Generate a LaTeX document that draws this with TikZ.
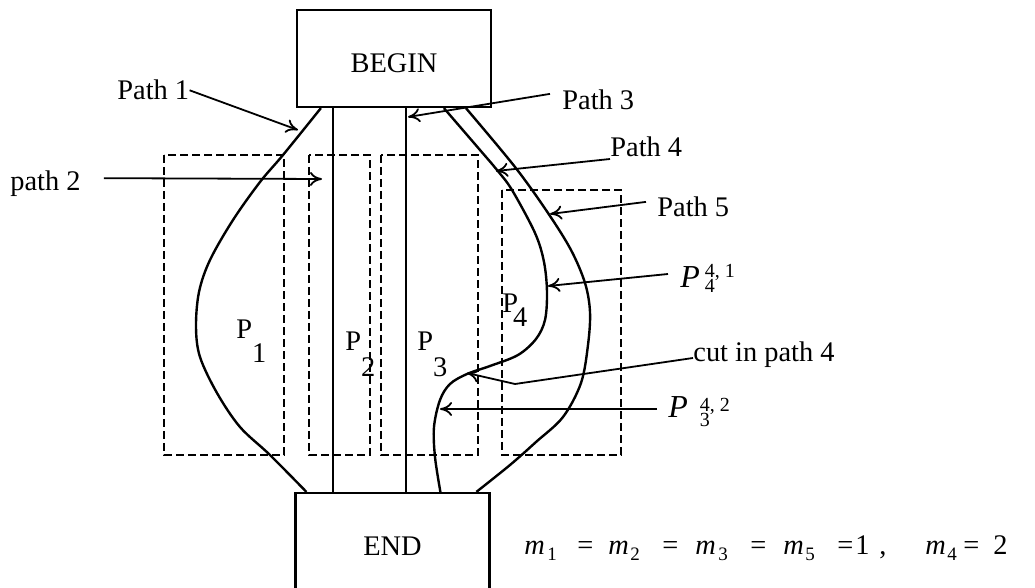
\documentclass[tikz,border=0pt]{standalone}
\usepackage{fontspec}
\setmainfont{Liberation Serif}
\usetikzlibrary{arrows.meta}
\newcommand\mysub[1]{\raisebox{-2.5pt}{\fontsize{9.5}{10}\selectfont #1}}
\newcommand\putat[2]{\rlap{\hspace{#1}#2}}
\begin{document}
\begin{tikzpicture}[x=0.5pt,y=-0.5pt,font=\fontsize{14.2}{16}\selectfont,
  box/.style={draw,line width=1.1pt,minimum width=97pt,minimum height=48.5pt,inner sep=0pt,text height=14.3pt,text depth=0pt},
  route/.style={line width=1.2pt,line join=round},
  dbox/.style={line width=1pt,dash pattern=on 4pt off 2pt},
  lab/.style={inner sep=0pt,anchor=base west},
  ptr/.style={line width=0.9pt,-{To[length=6pt,width=7pt]}}]
\useasboundingbox (0,0) rectangle (1035,588);
\clip (0,0) rectangle (1035,588);

% boxes
\node[box] (begin) at (394,58.5) {BEGIN};
\node[box] (end) at (392.5,541.5) {END};

% dashed partitions
\draw[dbox] (164,155) rectangle (284,455);
\draw[dbox] (309,155) rectangle (370,455);
\draw[dbox] (381,155) rectangle (478,455);
\draw[dbox] (502,190) rectangle (621,455);

% path endpoints on the boxes
\coordinate (p1s) at ([xshift=12.5pt]begin.south west);
\coordinate (p4s) at ([xshift=74pt]begin.south west);
\coordinate (p5s) at ([xshift=85pt]begin.south west);
\coordinate (p1e) at ([xshift=6pt]end.north west);
\coordinate (p4e) at ([xshift=73pt]end.north west);
\coordinate (p5e) at ([xshift=91pt]end.north west);
\coordinate (x2) at (333,0);
\coordinate (x3) at (406,0);

% paths
\draw[route] plot[smooth,tension=0.55] coordinates {(p1s) (283,155) (260,182) (233,220) (210,260) (199,292) (196,327) (200,357) (217,393) (240,427) (270,455) (p1e)};
\draw[route] (begin.south -| x2) -- (end.north -| x2);
\draw[route] (begin.south -| x3) -- (end.north -| x3);
\draw[route] plot[smooth,tension=0.55] coordinates {(p4s) (480,150) (497,170) (512,190) (535,233) (544,262) (547,292) (545,320) (536,339) (518,355) (490,366) (467,374) (450,384) (440,400) (434,427) (435,457) (p4e)};
\draw[route] plot[smooth,tension=0.55] coordinates {(p5s) (515,167) (548,213) (571,250) (585,283) (590,312) (588,345) (581,383) (563,417) (536,442) (510,465) (p5e)};

% region labels
\node[lab] (q1) at (236,339) {P\raisebox{-12pt}{1}};
\node[lab] (q2) at (345,351) {P\raisebox{-13pt}{2}};
\node[lab] (q3) at (417,351) {P\raisebox{-13pt}{3}};
\node[lab] (q4) at (502,313) {P\kern-2.5pt\raisebox{-7pt}{4}};

% pointer labels
\node[lab] (l1) at (117,100) {Path 1};
\node[lab] (l2) at (10,191) {path 2};
\node[lab] (l3) at (562,110) {Path 3};
\node[lab] (l4) at (610,157) {Path 4};
\node[lab] (l5) at (657,217) {Path 5};
\node[lab] (la) at (680,288) {{\fontsize{16}{18}\selectfont\itshape P}\rlap{\hspace{2.5pt}\raisebox{5pt}{\fontsize{10}{10}\selectfont 4, 1}}\hspace{2.5pt}\raisebox{-2.5pt}{\fontsize{10}{10}\selectfont 4}};
\node[lab] (lc) at (693,362) {cut in path 4};
\node[lab] (lb) at (668,418) {{\fontsize{16}{18}\selectfont\itshape P}\rlap{\hspace{6pt}\raisebox{3pt}{\fontsize{10}{10}\selectfont 4, 2}}\hspace{6pt}\raisebox{-4.5pt}{\fontsize{10}{10}\selectfont 3}};

% arrow targets
\coordinate (t1) at (298,130);
\coordinate (t2) at (322,179);
\coordinate (t3) at (408,117);
\coordinate (t4) at (496,171);
\coordinate (t5) at (550,214);
\coordinate (ta) at (548,286);
\coordinate (bend) at (515,384);
\coordinate (tc) at (467,373);
\coordinate (tb) at (440,409);

\draw[ptr] (l1.east) -- (t1);
\draw[ptr] ([xshift=11.5pt,yshift=3pt]l2.east) -- (t2);
\draw[ptr] ([xshift=-6pt,yshift=3.2pt]l3.west) -- (t3);
\draw[ptr] ([yshift=-1pt]l4.base west) -- (t4);
\draw[ptr] ([xshift=-5.5pt,yshift=2.7pt]l5.west) -- (t5);
\draw[ptr] ([xshift=-6pt,yshift=7pt]la.base west) -- (ta);
\draw[ptr] ([yshift=2pt]lc.base west) -- (bend) -- (tc);
\draw[ptr] ([xshift=-5.5pt,yshift=4.5pt]lb.base west) -- (tb);

% multiplicities
\node[lab] (eq) at (523,555) {\putat{0pt}{\itshape m}\putat{11.5pt}{\mysub{1}}\putat{26.5pt}{=}%
\putat{42pt}{\itshape m}\putat{53pt}{\mysub{2}}\putat{69pt}{=}%
\putat{85.5pt}{\itshape m}\putat{97pt}{\mysub{3}}\putat{113pt}{=}%
\putat{129.5pt}{\itshape m}\putat{140.5pt}{\mysub{5}}\putat{156.5pt}{=}\putat{165.5pt}{1}\putat{177.5pt}{,}%
\putat{200.5pt}{\itshape m}\putat{211.5pt}{\mysub{4}}\putat{219.5pt}{=}\putat{234.5pt}{2}\hspace{245pt}};
\end{tikzpicture}
\end{document}
